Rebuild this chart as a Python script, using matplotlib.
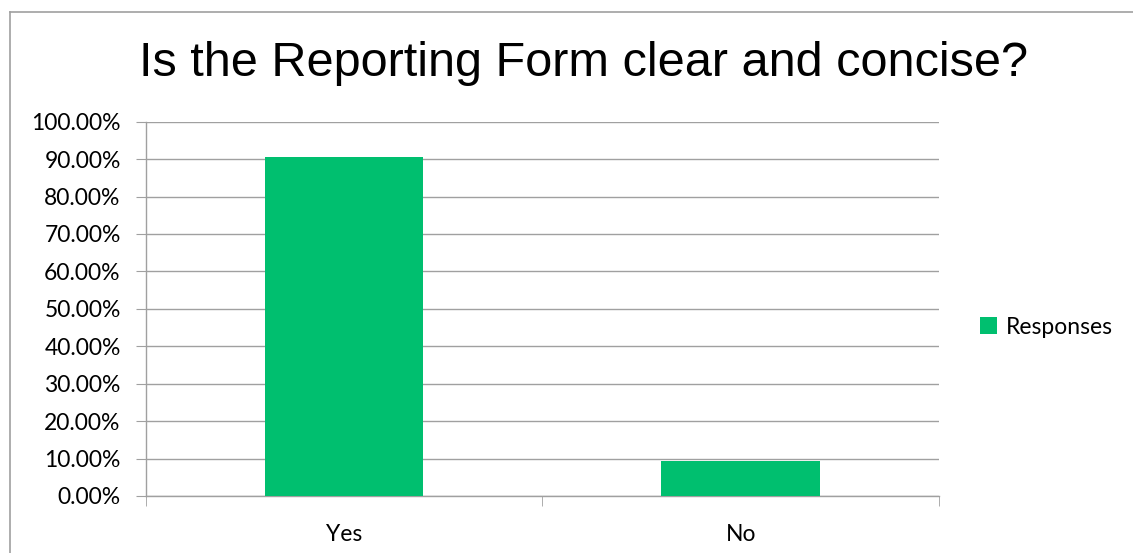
import matplotlib.pyplot as plt
from matplotlib.lines import Line2D
from matplotlib.ticker import FuncFormatter, MultipleLocator

# respuestas de la encuesta
categorias = ['Yes', 'No']
porcentajes = [90.57, 9.43]
serie = 'Responses'

verde = '#00BF6F'
gris = '#A0A0A0'

fig = plt.figure(figsize=(11.33, 5.53), dpi=100)
ax = fig.add_axes([0.1286, 0.1031, 0.7002, 0.6768])

pos = range(len(categorias))
ax.bar(pos, porcentajes, width=0.4, color=verde, label=serie, zorder=3)

ax.set_xlim(-0.5, len(categorias) - 0.5)
ax.set_ylim(0, 100)
ax.yaxis.set_major_locator(MultipleLocator(10))
ax.yaxis.set_major_formatter(FuncFormatter(lambda v, p: '%.2f%%' % v))
ax.set_xticks(list(pos))
ax.set_xticklabels(categorias)
ax.set_xticks([-0.5, 0.5, 1.5], minor=True)

fuente = 'Lato'
tam = 16.5
ax.tick_params(axis='y', length=7, color=gris, labelsize=tam, pad=11)
ax.tick_params(axis='x', which='major', length=0, labelsize=tam, pad=20)
ax.tick_params(axis='x', which='minor', length=7, color=gris)
for t in ax.get_xticklabels() + ax.get_yticklabels():
    t.set_family(fuente)

ax.grid(axis='y', color=gris, linewidth=1, zorder=0)
for lado in ['top', 'right']:
    ax.spines[lado].set_visible(False)
for lado in ['left', 'bottom']:
    ax.spines[lado].set_color(gris)
    ax.spines[lado].set_linewidth(1)

fig.text(0.515, 0.885, 'Is the Reporting Form clear and concise?', ha='center', va='center',
         fontsize=35, family='Liberation Sans')

ley = fig.legend(loc='center left', bbox_to_anchor=(0.847, 0.408), frameon=False,
                 handlelength=0.75, handleheight=0.75, handletextpad=0.35,
                 prop={'family': fuente, 'size': tam})

# marco exterior del grafico
fig.add_artist(Line2D([10 / 1133, 1], [1 - 12 / 553, 1 - 12 / 553], color=gris, lw=1.2,
                      transform=fig.transFigure))
fig.add_artist(Line2D([10 / 1133, 10 / 1133], [0, 1 - 12 / 553], color=gris, lw=1.2,
                      transform=fig.transFigure))

fig.savefig('out.png', dpi=100, facecolor='white')
